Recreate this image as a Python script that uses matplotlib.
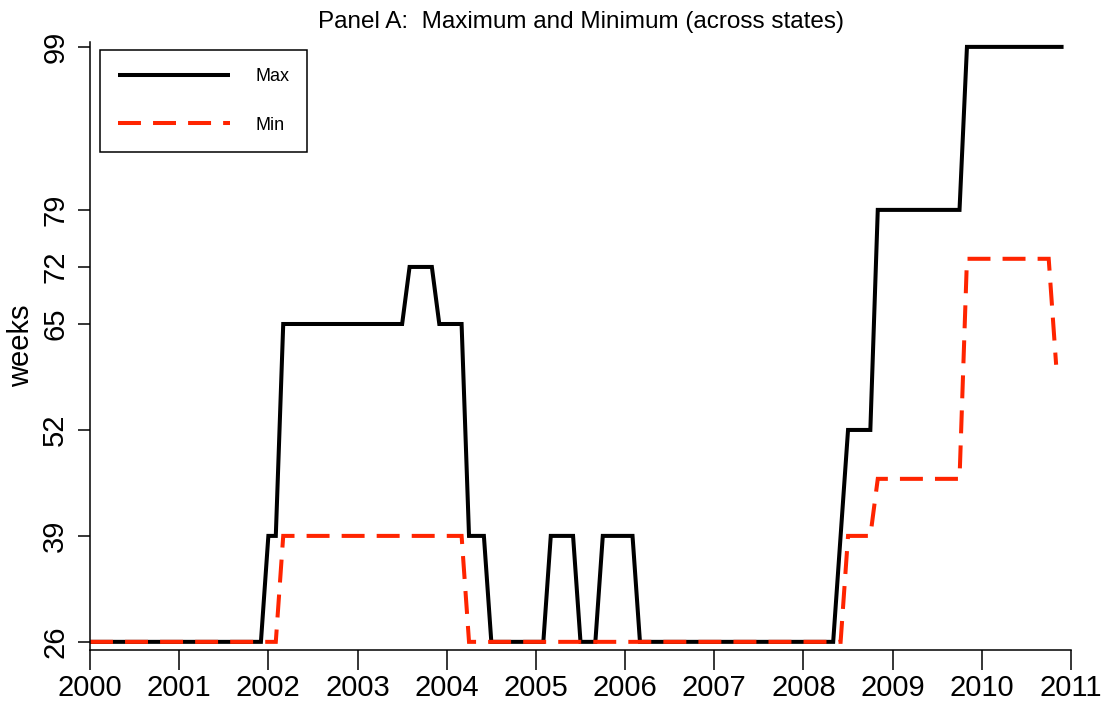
import numpy as np
import matplotlib
matplotlib.use("Agg")
import matplotlib.pyplot as plt

plt.rcParams['font.family'] = ['Liberation Sans', 'DejaVu Sans']

start_year = 2000
# monthly values, Jan 2000 onwards
max_weeks = [
    26, 26, 26, 26, 26, 26, 26, 26, 26, 26, 26, 26,   # 2000
    26, 26, 26, 26, 26, 26, 26, 26, 26, 26, 26, 26,   # 2001
    39, 39, 65, 65, 65, 65, 65, 65, 65, 65, 65, 65,   # 2002
    65, 65, 65, 65, 65, 65, 65, 72, 72, 72, 72, 65,   # 2003
    65, 65, 65, 39, 39, 39, 26, 26, 26, 26, 26, 26,   # 2004
    26, 26, 39, 39, 39, 39, 26, 26, 26, 39, 39, 39,   # 2005
    39, 39, 26, 26, 26, 26, 26, 26, 26, 26, 26, 26,   # 2006
    26, 26, 26, 26, 26, 26, 26, 26, 26, 26, 26, 26,   # 2007
    26, 26, 26, 26, 26, 39, 52, 52, 52, 52, 79, 79,   # 2008
    79, 79, 79, 79, 79, 79, 79, 79, 79, 79, 99, 99,   # 2009
    99, 99, 99, 99, 99, 99, 99, 99, 99, 99, 99, 99,   # 2010
]
min_weeks = [
    26, 26, 26, 26, 26, 26, 26, 26, 26, 26, 26, 26,   # 2000
    26, 26, 26, 26, 26, 26, 26, 26, 26, 26, 26, 26,   # 2001
    26, 26, 39, 39, 39, 39, 39, 39, 39, 39, 39, 39,   # 2002
    39, 39, 39, 39, 39, 39, 39, 39, 39, 39, 39, 39,   # 2003
    39, 39, 39, 26, 26, 26, 26, 26, 26, 26, 26, 26,   # 2004
    26, 26, 26, 26, 26, 26, 26, 26, 26, 26, 26, 26,   # 2005
    26, 26, 26, 26, 26, 26, 26, 26, 26, 26, 26, 26,   # 2006
    26, 26, 26, 26, 26, 26, 26, 26, 26, 26, 26, 26,   # 2007
    26, 26, 26, 26, 26, 26, 39, 39, 39, 39, 46, 46,   # 2008
    46, 46, 46, 46, 46, 46, 46, 46, 46, 46, 73, 73,   # 2009
    73, 73, 73, 73, 73, 73, 73, 73, 73, 73, 60,       # 2010
]
x_ticks = [2000, 2001, 2002, 2003, 2004, 2005, 2006, 2007, 2008, 2009, 2010, 2011]
y_ticks = [26, 39, 52, 65, 72, 79, 99]

x_max = start_year + np.arange(len(max_weeks)) / 12.0
x_min = start_year + np.arange(len(min_weeks)) / 12.0

W, H = 1109, 709
fig = plt.figure(figsize=(W / 100, H / 100), dpi=100)
ax = fig.add_axes([90 / W, 59 / H, (1071 - 90) / W, (650 - 42) / H])

lw = 2.9
ax.plot(x_max, max_weeks, color='black', lw=lw, solid_joinstyle='miter',
        solid_capstyle='butt', label='Max')
red = '#FF2400'
ax.plot(x_min, min_weeks, color=red, lw=lw, dashes=(5.7, 3.0),
        dash_capstyle='butt', dash_joinstyle='miter', label='Min')

ax.set_xlim(2000, 2011)
ax.set_ylim(25, 99.6)
ax.set_xticks(x_ticks)
ax.set_xticklabels([str(t) for t in x_ticks], fontsize=21)
ax.set_yticks(y_ticks)
ax.set_yticklabels([str(t) for t in y_ticks], fontsize=21, rotation=90, va='center')

for s in ['top', 'right']:
    ax.spines[s].set_visible(False)
for s in ['left', 'bottom']:
    ax.spines[s].set_linewidth(1.1)
ax.tick_params(axis='x', length=14.4, width=1.1, pad=3, direction='out')
ax.tick_params(axis='y', length=8.6, width=1.1, pad=6.4, direction='out')

ax.set_ylabel('weeks', fontsize=21, va='center', ha='center')
ax.yaxis.set_label_coords((21 - 90) / (1071 - 90), 0.5)
ax.set_title('Panel A:  Maximum and Minimum (across states)', fontsize=17.5, pad=10)

leg = ax.legend(loc='upper left', bbox_to_anchor=(100 / W, (H - 50) / H),
                bbox_transform=fig.transFigure, borderaxespad=0,
                fancybox=False, edgecolor='black', framealpha=1,
                fontsize=13, handlelength=6.2, handletextpad=1.4,
                labelspacing=1.75, borderpad=1.0)
leg.get_frame().set_linewidth(1.1)

fig.savefig('out.png', dpi=100)
